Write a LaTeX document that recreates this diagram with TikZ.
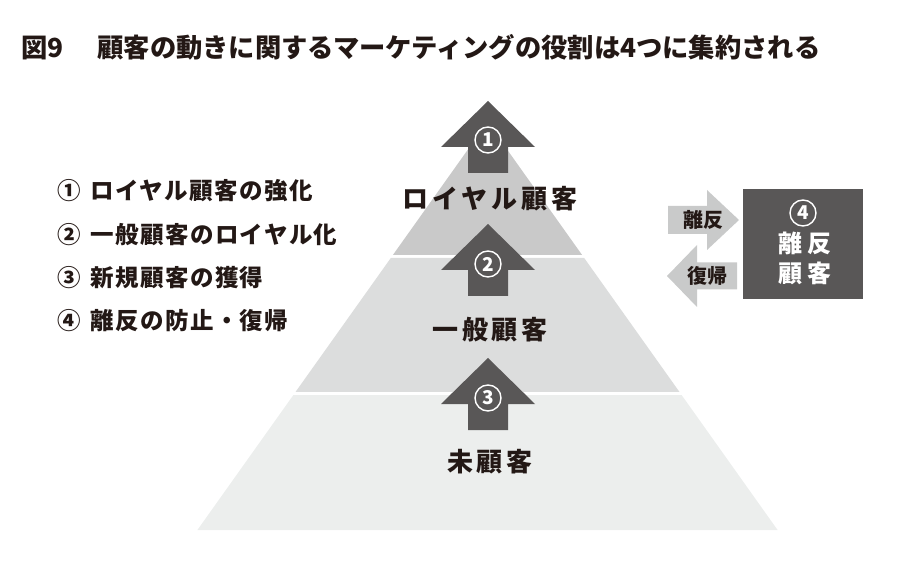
\documentclass[tikz,border=0pt]{standalone}
\usepackage{fontspec}
\setmainfont{Noto Sans CJK JP}
\definecolor{ink}{HTML}{231815}
\definecolor{dark}{HTML}{595757}
\definecolor{tierA}{HTML}{C9C9C9}
\definecolor{tierB}{HTML}{DCDDDD}
\definecolor{tierC}{HTML}{ECEEED}
\definecolor{side}{HTML}{C9CACA}
\newcommand\uparr[2]{\fill[dark] (#1,#2) -- ++(47,46) -- ++(-27,0) -- ++(0,26) -- ++(-40,0) -- ++(0,-26) -- ++(-27,0) -- cycle;}
\begin{document}
\begin{tikzpicture}[x=1pt,y=-1pt,
  titletxt/.style={text=ink, inner sep=0pt, font=\bfseries\fontsize{26.3}{26}\selectfont},
  itemtxt/.style={text=ink, inner sep=0pt, anchor=west, font=\bfseries\fontsize{23.5}{24}\selectfont\addfontfeatures{LetterSpace=6}},
  tierlab/.style={text=ink, inner sep=0pt, font=\bfseries\fontsize{26}{26}\selectfont\addfontfeatures{LetterSpace=15}},
  numc/.style={circle, draw=white, line width=1.4pt, minimum size=26pt, inner sep=0pt, text=white, font=\bfseries\fontsize{19}{19}\selectfont},
  boxtxt/.style={text=white, inner sep=0pt, font=\bfseries\fontsize{24}{24}\selectfont\addfontfeatures{LetterSpace=22}},
  sidetxt/.style={text=ink, inner sep=0pt, font=\bfseries\fontsize{20}{20}\selectfont},
  bigbox/.style={fill=dark, minimum width=120pt, minimum height=110pt, inner sep=0pt}]
\useasboundingbox (0,0) rectangle (900,569);
% title
\node[titletxt, anchor=west] (title) at (21,47) {図9\hspace{34pt}顧客の動きに関するマーケティングの役割は4つに集約される};
% pyramid tiers
\fill[tierA] (487.5,122) -- (582.1,255) -- (392.9,255) -- cycle;
\fill[tierB] (390.8,258) -- (584.2,258) -- (679.5,392) -- (295.5,392) -- cycle;
\fill[tierC] (293.4,395) -- (681.6,395) -- (777.6,530) -- (197.4,530) -- cycle;
% up arrows
\uparr{488}{101}
\uparr{488}{224}
\uparr{488}{358}
\node[numc] (n1) at (488,140) {1};
\node[numc] (n2) at (488,264) {2};
\node[numc] (n3) at (488,398) {3};
% tier labels
\node[tierlab] (l1) at (490,199) {ロイヤル顧客};
\node[tierlab] (l2) at (490,330) {一般顧客};
\node[tierlab] (l3) at (490,462) {未顧客};
% list
\node[itemtxt] (i1) at (57,191) {①\hspace{3pt} ロイヤル顧客の強化};
\node[itemtxt] (i2) at (57,235) {②\hspace{3pt} 一般顧客のロイヤル化};
\node[itemtxt] (i3) at (57,278) {③\hspace{3pt} 新規顧客の獲得};
\node[itemtxt] (i4) at (57,321) {④\hspace{3pt} 離反の防止・復帰};
% right box
\node[bigbox] (b4) at (802.5,244) {};
\node[numc] (n4) at (803,213) {4};
\node[boxtxt] (b4a) at (805,243) {離反};
\node[boxtxt] (b4b) at (805,273) {顧客};
% side arrows
\fill[side] (668,206) -- (707,206) -- (707,190) -- (739,220) -- (707,250) -- (707,234) -- (668,234) -- cycle;
\fill[side] (667,276) -- (697,245) -- (697,262.5) -- (737,262.5) -- (737,289.5) -- (697,289.5) -- (697,307) -- cycle;
\node[sidetxt] (s1) at (703,220) {離反};
\node[sidetxt] (s2) at (707,276) {復帰};
\end{tikzpicture}
\end{document}
